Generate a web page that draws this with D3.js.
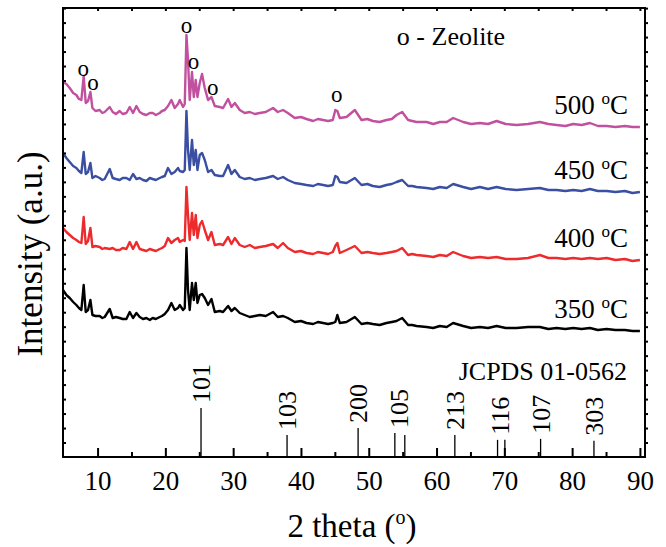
<!DOCTYPE html>
<html lang="en">
<head>
<meta charset="utf-8">
<title>XRD patterns</title>
<script src="https://d3js.org/d3.v7.min.js"></script>
<style>
  body { margin: 0; background: #fff; }
  text { font-family: "Liberation Serif", "Times New Roman", serif; fill: #000; }
</style>
</head>
<body>
<script>
// 2 theta positions (degrees) shared by all four traces
var twoTheta = [4.90, 5.40, 5.89, 6.40, 6.87, 7.25, 7.61, 7.95, 8.25, 8.59,
  8.94, 9.24, 9.70, 10.31, 10.70, 11.05, 11.79, 12.23, 12.70, 13.26,
  13.70, 14.25, 14.74, 15.23, 15.73, 16.22, 16.70, 17.20, 17.70, 18.13,
  18.60, 19.17, 19.50, 19.91, 20.39, 20.89, 21.38, 21.87, 22.12, 22.61,
  22.86, 23.11, 23.34, 23.59, 23.93, 24.19, 24.48, 24.73, 25.07, 25.41,
  25.81, 26.30, 26.80, 27.29, 28.02, 28.51, 29.25, 29.75, 30.24, 30.97,
  31.70, 32.45, 33.20, 33.93, 34.81, 35.89, 36.58, 37.36, 38.06, 39.09,
  40.00, 40.82, 41.80, 42.50, 43.27, 44.00, 44.70, 45.07, 45.37, 45.73,
  46.72, 47.95, 48.93, 49.80, 50.60, 51.60, 52.62, 53.40, 54.10, 54.93,
  55.81, 56.40, 57.05, 58.53, 59.50, 60.49, 61.50, 62.45, 63.93, 65.10,
  66.39, 67.60, 68.86, 70.20, 71.81, 73.50, 75.25, 76.50, 77.71, 79.00,
  80.16, 81.40, 82.63, 83.80, 85.09, 86.40, 87.79, 88.90, 90.00];

// intensities (a.u., already stacked)
var int500 = [375, 373, 369, 364, 362, 358, 357, 381, 354, 356,
  365, 349, 346, 347, 344, 345, 350, 345, 343, 346,
  343, 344, 350, 344, 351, 345, 343, 342, 344, 344,
  342, 344, 346, 347, 351, 357, 349, 353, 357, 350,
  353, 422, 397, 357, 385, 360, 377, 360, 374, 383,
  369, 357, 360, 351, 350, 349, 358, 350, 354, 347,
  344, 345, 343, 344, 345, 349, 345, 347, 344, 339,
  340, 338, 336, 338, 337, 336, 337, 347, 346, 339,
  340, 347, 337, 338, 336, 335, 337, 338, 342, 345,
  337, 336, 335, 335, 333, 335, 335, 339, 335, 333,
  334, 333, 336, 333, 332, 333, 335, 333, 332, 331,
  333, 332, 334, 331, 331, 330, 331, 330, 330];
var int450 = [304, 299, 295, 291, 289, 286, 284, 305, 283, 285,
  294, 279, 281, 279, 277, 278, 288, 279, 278, 277,
  279, 279, 277, 283, 278, 279, 277, 276, 279, 278,
  277, 279, 280, 281, 289, 283, 285, 289, 286, 285,
  287, 346, 307, 287, 317, 292, 307, 287, 302, 304,
  297, 285, 287, 282, 281, 281, 292, 283, 287, 280,
  278, 279, 277, 278, 279, 281, 278, 280, 277, 274,
  273, 272, 271, 273, 272, 271, 272, 281, 280, 275,
  274, 279, 272, 273, 271, 270, 272, 273, 275, 277,
  271, 271, 270, 269, 268, 270, 269, 273, 270, 268,
  270, 268, 270, 268, 267, 268, 269, 267, 267, 266,
  267, 266, 268, 266, 266, 265, 266, 264, 265];
var int400 = [229, 225, 222, 219, 217, 215, 214, 240, 213, 216,
  229, 210, 211, 210, 208, 209, 208, 209, 207, 207,
  209, 208, 215, 208, 215, 208, 207, 206, 208, 207,
  206, 208, 209, 211, 219, 214, 217, 219, 215, 217,
  216, 270, 242, 217, 244, 222, 242, 219, 232, 236,
  227, 217, 225, 212, 213, 212, 220, 213, 219, 212,
  210, 212, 209, 210, 211, 213, 209, 214, 209, 205,
  206, 204, 203, 205, 204, 203, 205, 211, 214, 204,
  207, 211, 204, 205, 204, 203, 204, 205, 206, 209,
  202, 203, 202, 201, 200, 202, 201, 205, 201, 199,
  200, 199, 200, 198, 198, 199, 202, 199, 199, 198,
  199, 198, 199, 198, 199, 197, 198, 196, 197];
var int350 = [167, 162, 159, 155, 152, 149, 147, 172, 145, 147,
  157, 142, 141, 141, 139, 140, 148, 139, 140, 139,
  138, 138, 145, 139, 144, 140, 138, 139, 137, 139,
  138, 140, 141, 143, 147, 154, 147, 149, 152, 147,
  149, 209, 167, 147, 174, 157, 174, 154, 162, 163,
  159, 152, 158, 145, 146, 145, 151, 146, 149, 144,
  142, 140, 141, 142, 141, 145, 140, 141, 139, 135,
  136, 134, 133, 135, 134, 133, 134, 135, 142, 134,
  135, 140, 133, 134, 133, 132, 134, 135, 136, 139,
  132, 132, 131, 130, 129, 131, 130, 134, 131, 129,
  130, 129, 131, 129, 129, 130, 130, 128, 129, 128,
  129, 128, 129, 127, 128, 127, 127, 126, 126];

var seriesLabels = ["500", "450", "400", "350"];
var seriesColors = ["#c1519f", "#3a4fa2", "#ed2a2c", "#000000"];

// zeolite marks on the 500 C trace
var zeoTheta = [7.88, 9.32, 23.11, 24.14, 26.99, 45.29];
var zeoInt = [386, 372, 429, 393, 367, 360];

// JCPDS 01-0562 reference lines
var refTheta = [25.26, 37.95, 48.43, 53.85, 55.32, 62.70, 69.00, 70.08, 75.35, 83.22];
var refInt = [100, 45, 59, 49, 45, 45, 35, 35, 37, 33];
var hklLabels = ["101", "103", "200", "105", "213", "116", "107", "303"];
var hklTheta = [25.26, 37.95, 48.43, 54.5, 62.70, 69.3, 75.35, 83.22];
var hklInt = [100, 45, 59, 49, 45, 35, 37, 33];

var W = 666, H = 547;
// plot box (note: "top" is a reserved window property, so use m* names)
var mLeft = 63, mRight = 645, mTop = 8, mBottom = 457;

var svg = d3.select("body").append("svg")
  .attr("width", W).attr("height", H);

var x = d3.scaleLinear().domain([4.9, 90.75]).range([mLeft, mRight]);
var y = d3.scaleLinear().domain([0, 449]).range([mBottom, mTop]);
var stick = d3.scaleLinear().domain([0, 100]).range([0, 49]);

var line = d3.line()
  .x(function(d) { return x(d[0]); })
  .y(function(d) { return y(d[1]); });

var allInt = [int500, int450, int400, int350];

allInt.forEach(function(vals, k) {
  var pts = twoTheta.map(function(t, i) { return [t, vals[i]]; });
  svg.append("path")
    .attr("d", line(pts))
    .attr("fill", "none")
    .attr("stroke", seriesColors[k])
    .attr("stroke-width", 2.4)
    .attr("stroke-linejoin", "round");

  // temperature label
  var lab = svg.append("text")
    .attr("x", 628)
    .attr("y", y(vals[vals.length - 1]) - 13)
    .attr("text-anchor", "end")
    .style("font-size", "27px");
  lab.append("tspan").text(seriesLabels[k] + " ");
  lab.append("tspan").attr("dy", -10).style("font-size", "17px").text("o");
  lab.append("tspan").attr("dy", 10).text("C");
});

// zeolite markers
svg.selectAll("text.zeo")
  .data(zeoTheta)
  .enter().append("text")
  .attr("class", "zeo")
  .attr("x", function(d) { return x(d); })
  .attr("y", function(d, i) { return y(zeoInt[i]) + 5; })
  .attr("text-anchor", "middle")
  .style("font-size", "23px")
  .text("o");

svg.append("text")
  .attr("x", 451).attr("y", 45)
  .attr("text-anchor", "middle")
  .style("font-size", "26px")
  .text("o - Zeolite");

// reference sticks
svg.selectAll("line.ref")
  .data(refTheta)
  .enter().append("line")
  .attr("class", "ref")
  .attr("x1", function(d) { return x(d); })
  .attr("x2", function(d) { return x(d); })
  .attr("y1", mBottom)
  .attr("y2", function(d, i) { return mBottom - stick(refInt[i]); })
  .attr("stroke", "#000")
  .attr("stroke-width", 1.3);

svg.selectAll("text.hkl")
  .data(hklLabels)
  .enter().append("text")
  .attr("class", "hkl")
  .attr("transform", function(d, i) {
    return "translate(" + x(hklTheta[i]) + "," + (mBottom - stick(hklInt[i]) - 5) + ") rotate(-90)";
  })
  .attr("dy", "0.35em")
  .style("font-size", "26px")
  .text(function(d) { return d; });

svg.append("text")
  .attr("x", 627).attr("y", 380)
  .attr("text-anchor", "end")
  .style("font-size", "26px")
  .text("JCPDS 01-0562");

// axes
var xMajor = d3.axisBottom(x).tickValues(d3.range(10, 91, 10)).tickSize(-9).tickPadding(14).tickFormat(d3.format("d"));
var xMinor = d3.axisBottom(x).tickValues(d3.range(15, 90, 10)).tickSize(-5).tickFormat("");
var xTop = d3.axisTop(x).tickValues(d3.range(10, 91, 5)).tickSize(-3).tickFormat("");
var yTicks = d3.range(14.48, 449, 14.48);
var yLeft = d3.axisLeft(y).tickValues(yTicks).tickSize(-3).tickFormat("");
var yRight = d3.axisRight(y).tickValues(yTicks).tickSize(3).tickFormat("");

var gx = svg.append("g").attr("transform", "translate(0," + mBottom + ")").call(xMajor);
gx.selectAll("text").style("font-size", "27px").style("font-family", '"Liberation Serif", serif');
svg.append("g").attr("transform", "translate(0," + mBottom + ")").call(xMinor);
svg.append("g").attr("transform", "translate(0," + mTop + ")").call(xTop);
svg.append("g").attr("transform", "translate(" + mLeft + ",0)").call(yLeft);
svg.append("g").attr("transform", "translate(" + mRight + ",0)").call(yRight);
svg.selectAll(".domain").remove();
svg.selectAll(".tick line").attr("stroke", "#000").attr("stroke-width", 2);

svg.append("rect")
  .attr("x", mLeft).attr("y", mTop)
  .attr("width", mRight - mLeft).attr("height", mBottom - mTop)
  .attr("fill", "none")
  .attr("stroke", "#000")
  .attr("stroke-width", 2);

// axis titles
var xt = svg.append("text")
  .attr("x", 352).attr("y", 537)
  .attr("text-anchor", "middle")
  .style("font-size", "33px");
xt.append("tspan").text("2 theta (");
xt.append("tspan").attr("dy", -13).style("font-size", "20px").text("o");
xt.append("tspan").attr("dy", 13).text(")");

svg.append("text")
  .attr("transform", "translate(42,254) rotate(-90)")
  .attr("text-anchor", "middle")
  .style("font-size", "35px")
  .text("Intensity (a.u.)");
</script>
</body>
</html>
